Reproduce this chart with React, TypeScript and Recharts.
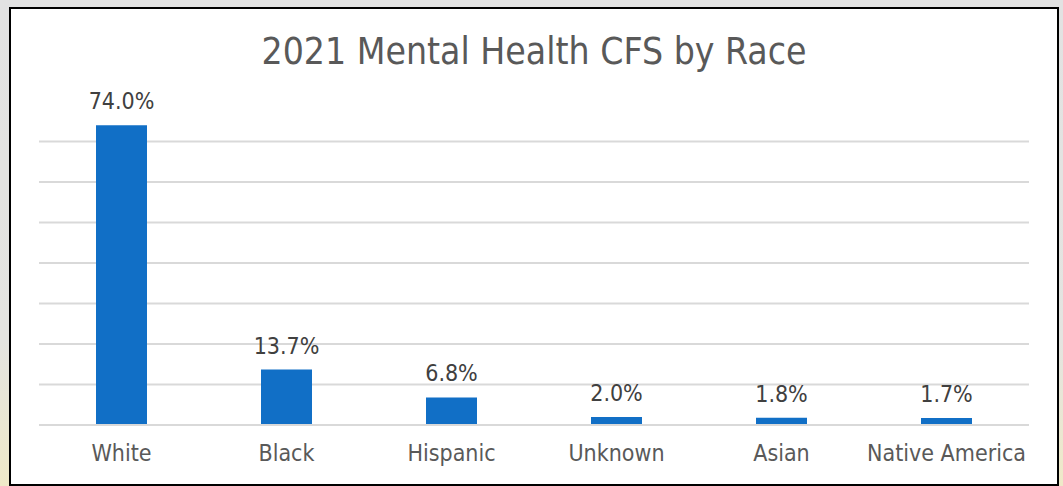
import { BarChart, Bar, XAxis, YAxis, CartesianGrid, LabelList } from 'recharts'

const races = ['White', 'Black', 'Hispanic', 'Unknown', 'Asian', 'Native America']
const shares = [74.0, 13.7, 6.8, 2.0, 1.8, 1.7]
const gridTicks = [0, 10, 20, 30, 40, 50, 60, 70]
const Y_MAX = 80

const FONT = '"DejaVu Sans Condensed", "DejaVu Sans", sans-serif'
const BAR_BLUE = '#116fc6'

const data = races.map((race, i) => ({ race, share: shares[i] }))

// gridlines only up to 70%, as in the original (no line at the 80% top)
const gridRows = ({ yAxis, offset }: any) =>
  gridTicks.map((t) =>
    yAxis && typeof yAxis.scale === 'function'
      ? yAxis.scale(t)
      : offset.top + offset.height * (1 - t / Y_MAX)
  )

export default function App() {
  return (
    <div
      style={{
        position: 'fixed',
        left: 0,
        top: 0,
        width: 1063,
        height: 486,
        background: 'linear-gradient(180deg, #e2e2e2 0%, #e4e4e0 70%, #efe9c8 100%)',
        overflow: 'hidden',
      }}
    >
      <div
        style={{
          position: 'absolute',
          left: 9,
          top: 7,
          width: 1046,
          height: 475,
          border: '2px solid #000',
          background: '#fff',
        }}
      >
        <div
          style={{
            position: 'absolute',
            left: 0,
            top: 24,
            width: '100%',
            textAlign: 'center',
            fontFamily: FONT,
            fontSize: 37,
            lineHeight: '37px',
            color: '#595959',
          }}
        >
          2021 Mental Health CFS by Race
        </div>
        <div style={{ position: 'absolute', left: 0, top: 0 }}>
          <BarChart
            width={1046}
            height={475}
            data={data}
            margin={{ top: 92, right: 28, bottom: 17, left: 28 }}
          >
            <CartesianGrid
              vertical={false}
              stroke="#d9d9d9"
              strokeWidth={2}
              horizontalCoordinatesGenerator={gridRows}
            />
            <YAxis hide domain={[0, Y_MAX]} ticks={gridTicks} />
            <XAxis
              dataKey="race"
              axisLine={{ stroke: '#d9d9d9', strokeWidth: 2 }}
              tickLine={false}
              tickMargin={14}
              height={42}
              interval={0}
              tick={{ fill: '#595959', fontSize: 23, fontFamily: FONT }}
            />
            <Bar dataKey="share" fill={BAR_BLUE} barSize={51} isAnimationActive={false}>
              <LabelList
                dataKey="share"
                position="top"
                offset={16}
                formatter={(v: any) => `${Number(v).toFixed(1)}%`}
                style={{ fill: '#404040', fontSize: 23, fontFamily: FONT }}
              />
            </Bar>
          </BarChart>
        </div>
      </div>
    </div>
  )
}
